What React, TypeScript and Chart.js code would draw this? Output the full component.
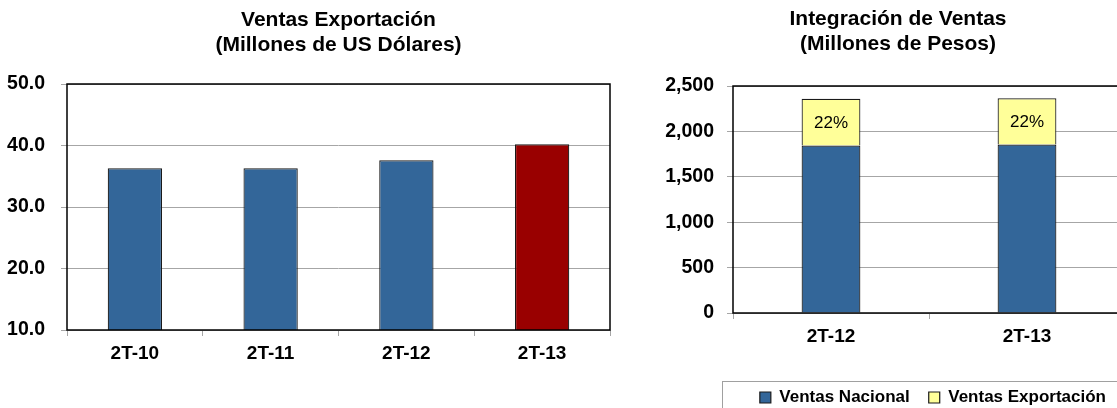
import React, { useEffect, useRef } from 'react';
import { Chart, registerables } from 'chart.js';

Chart.register(...registerables);

const FONT = '"Liberation Sans", Arial, Helvetica, sans-serif';

// ---- Left chart data ----
const exportCategories = ['2T-10', '2T-11', '2T-12', '2T-13'];
const exportValues = [36.3, 36.3, 37.6, 40.2];
const exportColors = ['#336699', '#336699', '#336699', '#990000'];
const exportTitle = ['Ventas Exportación', '(Millones de US Dólares)'];
const exportTicks = { min: 10, max: 50, step: 10 };

// ---- Right chart data ----
const mixCategories = ['2T-12', '2T-13'];
const nacionalValues = [1845, 1855];
const exportacionValues = [515, 510];
const exportShareLabels = ['22%', '22%'];
const mixTitle = ['Integración de Ventas', '(Millones de Pesos)'];
const legendLabels = ['Ventas Nacional', 'Ventas Exportación'];
const mixTicks = { min: 0, max: 2500, step: 500 };

const GRID = '#a6a6a6';

const framePlugin = {
  id: 'frame',
  afterDraw(chart: any) {
    const { ctx, chartArea } = chart;
    const { left, top, right, bottom } = chartArea;
    ctx.save();
    ctx.strokeStyle = '#000';
    ctx.lineWidth = 1.5;
    ctx.strokeRect(left, top, right - left, bottom - top);
    ctx.restore();
  },
};

const shareLabelPlugin = {
  id: 'shareLabels',
  afterDatasetsDraw(chart: any) {
    const meta = chart.getDatasetMeta(1);
    const { ctx } = chart;
    ctx.save();
    ctx.fillStyle = '#000';
    ctx.font = `17px ${FONT}`;
    ctx.textAlign = 'center';
    ctx.textBaseline = 'middle';
    meta.data.forEach((el: any, i: number) => {
      const { x, y, base } = el.getProps(['x', 'y', 'base'], true);
      ctx.fillText(exportShareLabels[i], x, (y + base) / 2 + 1);
    });
    ctx.restore();
  },
};

const legendFramePlugin = {
  id: 'legendFrame',
  afterDraw(chart: any) {
    const lg = chart.legend;
    if (!lg) return;
    const { ctx, chartArea } = chart;
    ctx.save();
    ctx.strokeStyle = '#a0a0a0';
    ctx.lineWidth = 1;
    const x = Math.round(chartArea.left - 11) + 0.5;
    const y = Math.round(lg.top + 11) + 0.5;
    ctx.strokeRect(x, y, 600, 200);
    ctx.restore();
  },
};

// shifts the right chart's title so it is centred over the whole figure block
const titleShiftPlugin = {
  id: 'titleShift',
  afterLayout(chart: any) {
    const t = chart.titleBlock;
    if (t) t.left += 31;
  },
};

export default function App() {
  const leftRef = useRef<HTMLCanvasElement | null>(null);
  const rightRef = useRef<HTMLCanvasElement | null>(null);

  useEffect(() => {
    const left = new Chart(leftRef.current as HTMLCanvasElement, {
      type: 'bar',
      data: {
        labels: exportCategories,
        datasets: [
          {
            data: exportValues,
            backgroundColor: exportColors,
            borderColor: '#1a1a1a',
            borderWidth: 1.2,
            barPercentage: 0.4,
            categoryPercentage: 1,
          },
        ],
      },
      options: {
        animation: false,
        responsive: true,
        maintainAspectRatio: false,
        layout: { padding: { left: 0, right: 10, top: 0, bottom: 0 } },
        plugins: {
          legend: { display: false },
          tooltip: { enabled: false },
          title: {
            display: true,
            text: exportTitle,
            fullSize: false,
            color: '#000',
            font: { family: FONT, size: 21, weight: 'bold', lineHeight: 25 / 21 },
            padding: { top: 8, bottom: 26 },
          },
        },
        scales: {
          x: {
            grid: { display: true, drawOnChartArea: false, drawTicks: true, tickLength: 6, color: GRID, offset: true },
            border: { display: false },
            ticks: { color: '#000', font: { family: FONT, size: 19, weight: 'bold' }, padding: 6 },
            afterFit(s: any) { s.height = 78; },
          },
          y: {
            min: exportTicks.min,
            max: exportTicks.max,
            ticks: {
              stepSize: exportTicks.step,
              color: '#000',
              font: { family: FONT, size: 19.5, weight: 'bold' },
              padding: 16,
              callback: (v: any) => Number(v).toFixed(1),
            },
            grid: { color: GRID, tickLength: 6 },
            border: { display: false },
            afterFit(s: any) { s.width = 67; },
          },
        },
      } as any,
      plugins: [framePlugin],
    });

    const right = new Chart(rightRef.current as HTMLCanvasElement, {
      type: 'bar',
      data: {
        labels: mixCategories,
        datasets: [
          {
            label: legendLabels[0],
            data: nacionalValues,
            backgroundColor: '#336699',
            borderColor: '#1a1a1a',
            borderWidth: 1.2,
            barPercentage: 0.3,
            categoryPercentage: 1,
          },
          {
            label: legendLabels[1],
            data: exportacionValues,
            backgroundColor: '#FFFF99',
            borderColor: '#1a1a1a',
            borderWidth: 1.2,
            barPercentage: 0.3,
            categoryPercentage: 1,
          },
        ],
      },
      options: {
        animation: false,
        responsive: true,
        maintainAspectRatio: false,
        layout: { padding: { left: 0, right: 5, top: 0, bottom: 0 } },
        plugins: {
          tooltip: { enabled: false },
          title: {
            display: true,
            text: mixTitle,
            color: '#000',
            font: { family: FONT, size: 21, weight: 'bold', lineHeight: 25 / 21 },
            padding: { top: 7, bottom: 29 },
          },
          legend: {
            display: true,
            position: 'bottom',
            align: 'end',
            fullSize: false,
            labels: {
              boxWidth: 11,
              boxHeight: 11,
              padding: 19,
              color: '#000',
              font: { family: FONT, size: 17, weight: 'bold' },
            },
          },
        },
        scales: {
          x: {
            stacked: true,
            grid: { display: true, drawOnChartArea: false, drawTicks: true, tickLength: 6, color: GRID, offset: true },
            border: { display: false },
            ticks: { color: '#000', font: { family: FONT, size: 19, weight: 'bold' }, padding: 6 },
            afterFit(s: any) { s.height = 57; },
          },
          y: {
            stacked: true,
            min: mixTicks.min,
            max: mixTicks.max,
            ticks: {
              stepSize: mixTicks.step,
              color: '#000',
              font: { family: FONT, size: 19.5, weight: 'bold' },
              padding: 13,
              callback: (v: any) => Number(v).toLocaleString('en-US'),
            },
            grid: { color: GRID, tickLength: 6 },
            border: { display: false },
            afterFit(s: any) { s.width = 93; },
          },
        },
      } as any,
      plugins: [framePlugin, shareLabelPlugin, legendFramePlugin, titleShiftPlugin],
    });

    return () => {
      left.destroy();
      right.destroy();
    };
  }, []);

  return (
    <div
      style={{
        position: 'fixed',
        left: 0,
        top: 0,
        width: 1117,
        height: 408,
        overflow: 'hidden',
        background: '#fff',
      }}
    >
      <div style={{ position: 'absolute', left: 0, top: 0, width: 620, height: 408 }}>
        <canvas ref={leftRef} />
      </div>
      <div style={{ position: 'absolute', left: 640, top: 0, width: 490, height: 416 }}>
        <canvas ref={rightRef} />
      </div>
    </div>
  );
}
